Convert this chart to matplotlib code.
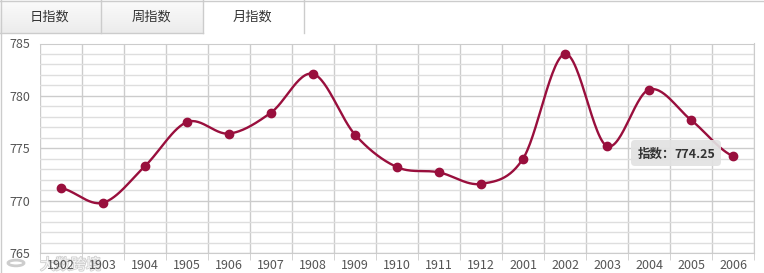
import numpy as np
import matplotlib
matplotlib.use('Agg')
import matplotlib.pyplot as plt
import matplotlib.patches as mpatches
import matplotlib.patheffects as pe
from matplotlib.ticker import MultipleLocator, FixedLocator

plt.rcParams['font.family'] = ['Noto Sans CJK SC', 'DejaVu Sans']

# 資料
years = ['1902', '1903', '1904', '1905', '1906', '1907', '1908', '1909', '1910',
         '1911', '1912', '2001', '2002', '2003', '2004', '2005', '2006']
index_vals = [771.2, 769.8, 773.3, 777.5, 776.4, 778.4, 782.1, 776.3, 773.2,
              772.7, 771.6, 774.0, 784.0, 775.2, 780.6, 777.7, 774.25]
tabs = ['日指数', '周指数', '月指数']
tooltip_label = '指数：'
tooltip_idx = 16

LINE = '#990f3d'
W, H = 764, 273


def smooth_curve(y, n=30):
    '''cubic hermite (catmull-rom)，跟 echarts 的 smooth 線差不多'''
    y = np.asarray(y, dtype=float)
    x = np.arange(len(y), dtype=float)
    m = np.zeros_like(y)
    m[1:-1] = (y[2:] - y[:-2]) / 2
    m[0], m[-1] = (y[1] - y[0]) * 0.5, (y[-1] - y[-2]) * 0.5
    xs, ys = [], []
    for i in range(len(y) - 1):
        s = np.linspace(0, 1, n, endpoint=False)
        h00 = 2*s**3 - 3*s**2 + 1
        h10 = s**3 - 2*s**2 + s
        h01 = -2*s**3 + 3*s**2
        h11 = s**3 - s**2
        xs.append(x[i] + s)
        ys.append(h00*y[i] + h10*m[i] + h01*y[i+1] + h11*m[i+1])
    xs.append([x[-1]])
    ys.append([y[-1]])
    return np.concatenate(xs), np.concatenate(ys)


fig = plt.figure(figsize=(W/100, H/100), dpi=100)
fig.patch.set_facecolor('white')

# 浮水印 (畫在最底下)
fig.text(40/W, 1 - 265/H, '大数跨境', ha='left', va='center', fontsize=11, color='white',
         alpha=0.8, path_effects=[pe.withStroke(linewidth=1.2, foreground='#c4c4c4')], zorder=-2)
fig.add_artist(mpatches.Circle((16/W, 1 - 263/H), 8/W, fc='none', ec='#cdcdcd', lw=2,
                               transform=fig.transFigure, zorder=-2))

# 主圖
ax = fig.add_axes([40/W, (H-253)/H, 714/W, (253-43.5)/H])
ax.patch.set_alpha(0)
x = np.arange(len(years))
ax.set_xlim(-0.5, len(years) - 0.5)
ax.set_ylim(765, 785)
ax.yaxis.set_major_locator(MultipleLocator(5))
ax.yaxis.set_minor_locator(MultipleLocator(1))
ax.xaxis.set_major_locator(FixedLocator(x))
ax.xaxis.set_minor_locator(FixedLocator(np.arange(len(years) + 1) - 0.5))
ax.set_xticklabels(years)
ax.grid(which='major', axis='y', color='#cccccc', lw=1)
ax.grid(which='minor', axis='y', color='#dedede', lw=1)
ax.grid(which='minor', axis='x', color='#cccccc', lw=1)
ax.tick_params(axis='x', which='major', length=0, pad=4, labelsize=9, colors='#555555')
ax.tick_params(axis='x', which='minor', length=5, color='#cccccc')
ax.tick_params(axis='y', which='both', length=0, pad=7, labelsize=9, colors='#555555')
for side in ['top', 'right', 'bottom']:
    ax.spines[side].set_color('#cccccc')
ax.spines['left'].set_visible(False)
ax.set_axisbelow(True)

sx, sy = smooth_curve(index_vals)
ax.plot(sx, sy, color=LINE, lw=1.7, solid_capstyle='round', zorder=3)
ax.plot(x, index_vals, 'o', color=LINE, ms=6, zorder=4)

# 外框、頁籤
ov = fig.add_axes([0, 0, 1, 1], facecolor='none')
ov.set_xlim(0, W)
ov.set_ylim(H, 0)
ov.axis(False)
cmap = matplotlib.colors.LinearSegmentedColormap.from_list('g', ['#fbfbfb', '#ececec'])
for i, name in enumerate(tabs):
    x0 = i * 101.3
    active = i == len(tabs) - 1
    if not active:
        grad = np.linspace(0, 1, 33).reshape(-1, 1)
        ov.imshow(grad, extent=(x0, x0 + 101.3, 33, 0), cmap=cmap, aspect='auto', zorder=1)
    ov.text(x0 + 50, 17, name, ha='center', va='center', fontsize=9.5, color='#333333', zorder=3)
    ov.plot([x0 + 101.3, x0 + 101.3], [0, 33], color='#cccccc', lw=1, zorder=2)
ov.plot([0, 203], [33, 33], color='#cccccc', lw=1, zorder=2)
ov.plot([0, W], [0.5, 0.5], color='#cccccc', lw=1, zorder=2)
ov.plot([0.5, 0.5], [0, H], color='#cccccc', lw=1, zorder=2)

# tooltip
ov.add_patch(mpatches.FancyBboxPatch((631, 140), 90, 26, boxstyle='round,pad=0,rounding_size=4',
                                     fc='#e2e2e2', ec='none', alpha=0.92, zorder=5))
ov.text(638, 154, tooltip_label, ha='left', va='center', fontsize=9, color='#333333',
        fontweight='bold', zorder=6)
ov.text(674, 154, f'{index_vals[tooltip_idx]:.2f}', ha='left', va='center', fontsize=9,
        color='#333333', fontweight='bold', zorder=6)

fig.savefig('out.png', dpi=100)
